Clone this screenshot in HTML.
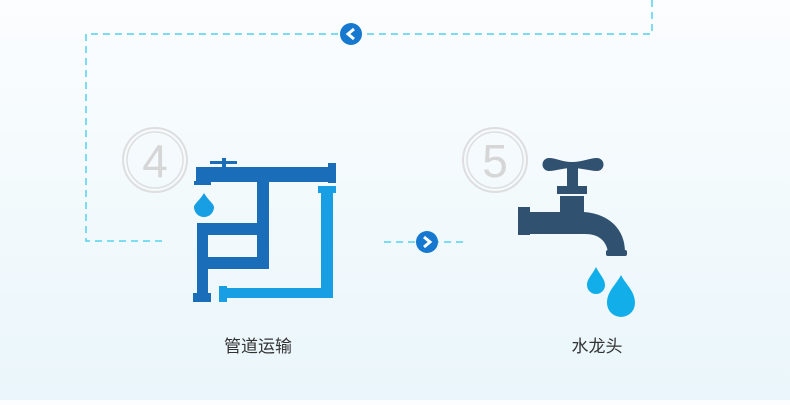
<!DOCTYPE html>
<html><head><meta charset="utf-8"><style>
html,body{margin:0;padding:0}
body{width:790px;height:400px;overflow:hidden;background:linear-gradient(#fbfdfe,#eaf6fb);font-family:"Liberation Sans","Noto Sans CJK SC",sans-serif}
</style></head><body>
<svg width="790" height="400" xmlns="http://www.w3.org/2000/svg">
<g fill="none" stroke="#55d2ee" stroke-width="1.5" stroke-dasharray="7,5">
<path d="M652 0 V34 H86 V241 H163"/>
<path d="M384 242 H463"/>
</g>
<circle cx="351" cy="34" r="11" fill="#1679cf"/>
<path d="M354 29 L348 34 L354 39" stroke="#fff" stroke-width="3" fill="none"/>
<circle cx="427" cy="242" r="11" fill="#1679cf"/>
<path d="M424 237 L430 242 L424 247" stroke="#fff" stroke-width="3" fill="none"/>
<g fill="none" stroke="#dedede">
<circle cx="155" cy="160" r="32" stroke-width="2"/><circle cx="155" cy="160" r="28" stroke-width="1.5"/>
<circle cx="495" cy="160" r="32" stroke-width="2"/><circle cx="495" cy="160" r="28" stroke-width="1.5"/>
</g>
<text x="155" y="177" font-size="46" fill="#d6d6d6" text-anchor="middle" font-family="Liberation Sans,sans-serif">4</text>
<text x="495" y="177" font-size="46" fill="#d6d6d6" text-anchor="middle" font-family="Liberation Sans,sans-serif">5</text>
<g fill="#1a6db8">
<rect x="196" y="167" width="139" height="15"/>
<rect x="328" y="163" width="8" height="20"/>
<rect x="194" y="181" width="17" height="4"/>
<rect x="210" y="161" width="27" height="3"/>
<rect x="222" y="158" width="4" height="10"/>
<rect x="257" y="182" width="12" height="87"/>
<rect x="197" y="223" width="72" height="12"/>
<rect x="197" y="257" width="72" height="12"/>
<rect x="197" y="223" width="11" height="72"/>
<rect x="193" y="293" width="18" height="9"/>
</g>
<g fill="#179ee3">
<rect x="321" y="187" width="12" height="111"/>
<rect x="318" y="186" width="18" height="7"/>
<rect x="220" y="288" width="113" height="10"/>
<rect x="219" y="286" width="8" height="16"/>
<path d="M204 193 C200 200 194 204 194 207 A10 10 0 0 0 214 207 C214 204 208 200 204 193Z"/>
</g>
<g fill="#315170">
<path d="M549 158 C556 158 562 162 572 162 C582 162 590 158 597 158 A6 6 0 0 1 597 171 C590 171 582 168 572 168 C562 168 556 171 549 171 A6 6 0 0 1 549 158Z"/>
<rect x="567" y="165" width="11" height="22"/>
<rect x="557" y="186" width="30" height="8"/>
<rect x="518" y="207" width="12" height="28"/>
<path d="M528 212 H560 V196 H584 V212 C610 214 625 230 625 252 H608 C606 240 598 234 585 234 H528Z"/>
<rect x="606" y="250" width="21" height="6" rx="2"/>
</g>
<g fill="#12aee9">
<path d="M596 267 C592 275 587 279 587 285 A9 9 0 0 0 605 285 C605 279 600 275 596 267Z"/>
<path d="M621 275 C616 285 607 291 607 303 A14 14 0 0 0 635 303 C635 291 626 285 621 275Z"/>
</g>
<text x="258" y="352" font-size="17" fill="#333" text-anchor="middle" font-family="Liberation Sans,Noto Sans CJK SC,sans-serif">管道运输</text>
<text x="597" y="352" font-size="17" fill="#333" text-anchor="middle" font-family="Liberation Sans,Noto Sans CJK SC,sans-serif">水龙头</text>
</svg>
</body></html>
